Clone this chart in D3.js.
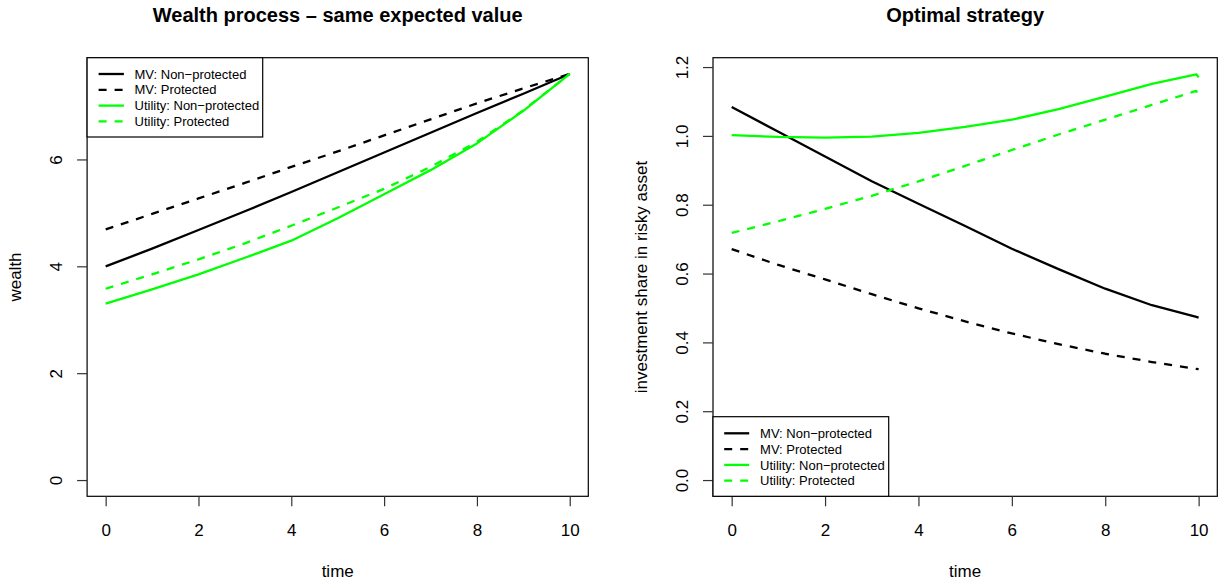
<!DOCTYPE html>
<html><head><meta charset="utf-8">
<script src="https://cdn.jsdelivr.net/npm/d3@7"></script>
<style>
body{margin:0;background:#fff}
svg{display:block}
text{font-family:"Liberation Sans",Arial,Helvetica,sans-serif;fill:#000}
</style>
</head><body>
<svg id="c" width="1223" height="584"></svg>
<script>
// ---------- data ----------
const timeWealth = [0,1,2,3,4,5,6,7,8,9,10];
const wealthMVNonProtected   = [4.00,4.33,4.68,5.03,5.39,5.76,6.13,6.50,6.87,7.23,7.60];
const wealthMVProtected      = [4.69,4.98,5.27,5.56,5.86,6.15,6.45,6.75,7.05,7.33,7.60];
const wealthUtilNonProtected = [3.30,3.57,3.85,4.16,4.48,4.90,5.35,5.80,6.30,6.91,7.60];
const wealthUtilProtected    = [3.58,3.85,4.13,4.43,4.76,5.10,5.45,5.86,6.33,6.92,7.60];

const timeStrategy = [0,1,2,3,4,5,6,7,8,9,9.95,10];
const shareMVNonProtected   = [1.084,1.012,0.940,0.868,0.803,0.738,0.672,0.613,0.556,0.508,0.474,0.472];
const shareMVProtected      = [0.671,0.625,0.583,0.540,0.499,0.461,0.426,0.395,0.367,0.343,0.323,0.322];
const shareUtilNonProtected = [1.002,0.997,0.995,0.998,1.009,1.026,1.047,1.078,1.114,1.151,1.179,1.170];
const shareUtilProtected    = [0.718,0.752,0.788,0.826,0.868,0.913,0.959,1.004,1.047,1.090,1.131,1.112];

const seriesNames = ["MV: Non\u2212protected","MV: Protected","Utility: Non\u2212protected","Utility: Protected"];
const seriesColors = ["#000000","#000000","#00ff00","#00ff00"];
const seriesDashed = [false,true,false,true];

const xTicks = [0,2,4,6,8,10];
const yTicksWealth = [0,2,4,6];
const yTicksShare = [0,0.2,0.4,0.6,0.8,1.0,1.2];
const yTickLabelsShare = ["0.0","0.2","0.4","0.6","0.8","1.0","1.2"];

// ---------- drawing ----------
const svg = d3.select("#c");
svg.append("rect").attr("width",1223).attr("height",584).attr("fill","#fff");

function panel(opt){
  const {left,right,top,bottom,xDomain,yDomain,times,series,yTicks,yLabels,title,ylab,legend} = opt;
  const x = d3.scaleLinear().domain(xDomain).range([left,right]);
  const y = d3.scaleLinear().domain(yDomain).range([bottom,top]);
  const g = svg.append("g");

  // lines
  const line = d3.line().x((d,i)=>x(times[i])).y(d=>y(d));
  series.forEach((s,i)=>{
    g.append("path").attr("d",line(s)).attr("fill","none")
      .attr("stroke",seriesColors[i]).attr("stroke-width",2.3)
      .attr("stroke-linejoin","round")
      .attr("stroke-dasharray",seriesDashed[i]?"8,8":null);
  });

  // box
  g.append("rect").attr("x",left).attr("y",top).attr("width",right-left).attr("height",bottom-top)
    .attr("fill","none").attr("stroke","#000").attr("stroke-width",1.2);

  // x axis
  const xa = g.append("g").attr("transform",`translate(0,${bottom})`)
    .call(d3.axisBottom(x).tickValues(xTicks).tickSize(10).tickFormat(d3.format("d")));
  xa.select(".domain").remove();
  xa.selectAll("line").attr("stroke","#333").attr("stroke-width",1.2);
  xa.selectAll("text").attr("y",39.5).attr("dy",null).attr("font-size",17)
    .attr("font-family","Liberation Sans, Arial, sans-serif").attr("fill","#000");

  // y axis
  const ya = g.append("g").attr("transform",`translate(${left},0)`)
    .call(d3.axisLeft(y).tickValues(yTicks).tickSize(10)
      .tickFormat((d,i)=>yLabels? yLabels[i] : d3.format("d")(d)));
  ya.select(".domain").remove();
  ya.selectAll("line").attr("stroke","#333").attr("stroke-width",1.2);
  ya.selectAll("text").attr("x",0).attr("dy",null)
    .attr("transform","translate(-25,0) rotate(-90)").attr("text-anchor","middle")
    .attr("font-size",17).attr("font-family","Liberation Sans, Arial, sans-serif").attr("fill","#000");

  const cx = (left+right)/2;
  svg.append("text").attr("x",cx).attr("y",22).attr("text-anchor","middle")
    .attr("font-size",20).attr("font-weight","bold").text(title);
  svg.append("text").attr("x",cx).attr("y",577).attr("text-anchor","middle")
    .attr("font-size",17).text("time");
  svg.append("text").attr("transform",`translate(${left-65.7},${(top+bottom)/2}) rotate(-90)`)
    .attr("text-anchor","middle").attr("font-size",17).text(ylab);

  // legend
  const L = legend;
  svg.append("rect").attr("x",L.x0).attr("y",L.y0).attr("width",L.x1-L.x0).attr("height",L.y1-L.y0)
    .attr("fill","#fff").attr("stroke","#000").attr("stroke-width",1.2);
  seriesNames.forEach((n,i)=>{
    const ry = L.rowY + i*L.rowH;
    svg.append("line").attr("x1",L.lx0).attr("x2",L.lx1).attr("y1",ry).attr("y2",ry)
      .attr("stroke",seriesColors[i]).attr("stroke-width",2.3)
      .attr("stroke-dasharray",seriesDashed[i]?"8,8":null);
    svg.append("text").attr("x",L.tx).attr("y",ry+4.6).attr("font-size",13).text(n);
  });
}

panel({
  left:87.1,right:588.3,top:57.7,bottom:496.3,
  xDomain:[-0.4,10.4], yDomain:[-0.304,7.904],
  times:timeWealth,
  series:[wealthMVNonProtected,wealthMVProtected,wealthUtilNonProtected,wealthUtilProtected],
  yTicks:yTicksWealth, yLabels:null,
  title:"Wealth process \u2013 same expected value", ylab:"wealth",
  legend:{x0:87.1,y0:57.7,x1:262.7,y1:137,rowY:74,rowH:15.8,lx0:98.6,lx1:123.9,tx:134.5}
});

panel({
  left:713,right:1217.3,top:57.7,bottom:496.3,
  xDomain:[-0.4,10.4], yDomain:[-0.0472,1.2272],
  times:timeStrategy,
  series:[shareMVNonProtected,shareMVProtected,shareUtilNonProtected,shareUtilProtected],
  yTicks:yTicksShare, yLabels:yTickLabelsShare,
  title:"Optimal strategy", ylab:"investment share in risky asset",
  legend:{x0:713,y0:416.7,x1:888.7,y1:496.3,rowY:433.3,rowH:15.8,lx0:724.2,lx1:749.2,tx:760.1}
});
</script>
</body></html>
